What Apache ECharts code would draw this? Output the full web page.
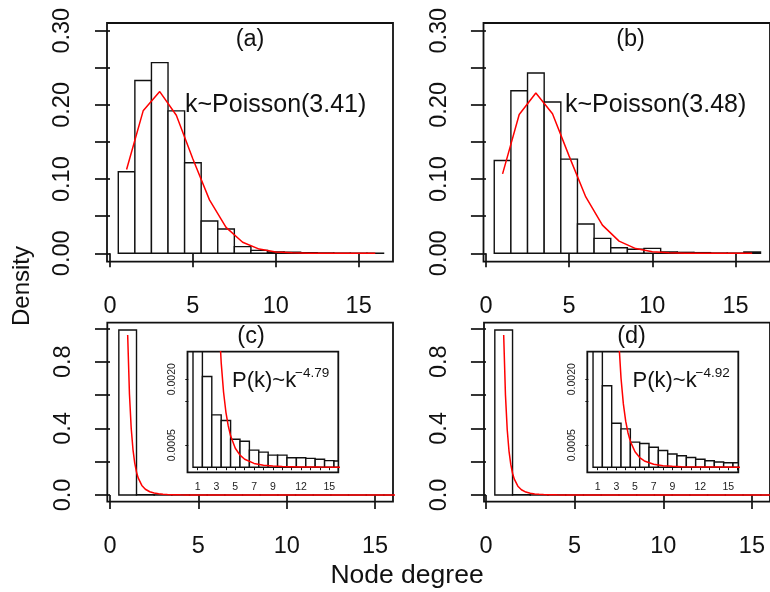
<!DOCTYPE html>
<html>
<head>
<meta charset="utf-8">
<script src="https://cdn.jsdelivr.net/npm/echarts@6/dist/echarts.min.js"></script>
<style>
html,body{margin:0;padding:0;background:#fff;}
#chart{width:770px;height:592px;}
</style>
</head>
<body>
<div id="chart"></div>
<script>
// ---------- data ----------
const degrees = [1,2,3,4,5,6,7,8,9,10,11,12,13,14,15,16];
// (a) observed density and Poisson(3.41) fit
const histA = [0.110,0.233,0.257,0.192,0.122,0.0435,0.0327,0.0090,0.0040,0.0020,0.0015,0.0008,0.0005,0.0003,0.0002,0.0002];
const poisA = [0.113,0.192,0.218,0.186,0.127,0.072,0.035,0.015,0.0057,0.0019,0.0006,0.0002,0.00004,0.00001,0,0];
// (b) observed density and Poisson(3.48) fit
const histB = [0.125,0.219,0.243,0.204,0.127,0.0395,0.0202,0.0076,0.0054,0.0067,0.0020,0.0013,0.0009,0.0004,0.0003,0.0018];
const poisB = [0.107,0.187,0.216,0.188,0.131,0.076,0.038,0.0164,0.0064,0.0022,0.0007,0.0002,0.00005,0.00001,0,0];
// (c),(d) observed densities (first bar ~0.99, the rest shown in the insets)
const histC = [0.990,0.00206,0.00119,0.00106,0.000635,0.00059,0.000387,0.000342,0.000275,0.000275,0.000215,0.000215,0.0002,0.00018,0.00015,0.00014];
const histD = [0.990,0.00185,0.00100,0.00087,0.00057,0.00054,0.000455,0.00038,0.00030,0.00026,0.00022,0.00018,0.000147,0.000117,0.00010,0.00010];
// power-law fit curves P(k)~k^-4.79 and k^-4.92
const fitK = [1,1.1,1.2,1.3,1.4,1.5,1.6,1.8,2,2.25,2.5,2.75,3,3.25,3.5,3.75,4,4.25,4.5,5,5.5,6,7,8,9,10,12,14,16,17];
const fitC = [0.96,0.608,0.401,0.273,0.1915,0.1376,0.1011,0.0575,0.0347,0.01974,0.01192,0.00755,0.004976,0.003393,0.002378,0.001709,0.001254,0.000938,0.000713,0.000431,0.000273,0.000180,0.000086,0.0000453,0.0000258,0.0000156,0.0000065,0.0000031,0.0000016,0.0000012];
const fitD = [0.96,0.601,0.3915,0.264,0.1834,0.1306,0.0951,0.0532,0.0317,0.01776,0.01058,0.00662,0.004316,0.002909,0.002022,0.001439,0.001047,0.000777,0.000587,0.000350,0.000219,0.000142,0.0000666,0.0000346,0.0000194,0.0000115,0.0000047,0.0000022,0.0000011,0.00000085];
// tick values / labels
const xTicksMain = [0,5,10,15];
const yTicksAB = [0,0.05,0.10,0.15,0.20,0.25,0.30];
const yLabelsAB = [0,0.10,0.20,0.30];
const yTicksCD = [0,0.2,0.4,0.6,0.8,1.0];
const yLabelsCD = [0,0.4,0.8];
const insetXTicks = [1,2,3,4,5,6,7,8,9,10,11,12,13,14,15,16];
const insetXLabels = [1,3,5,7,9,12,15];
const insetYTicks = [0.0005,0.0015,0.0020];
const insetYLabels = [0.0005,0.0020];
const panelTags = ['(a)','(b)','(c)','(d)'];
const poissonTexts = ['k~Poisson(3.41)','k~Poisson(3.48)'];
const powerTexts = ['P(k)~k','P(k)~k'];
const powerExps = ['\u22124.79','\u22124.92'];

// ---------- chart ----------
const FONT = '"Liberation Sans", Arial, sans-serif';
const chart = echarts.init(document.getElementById('chart'), null, {renderer:'canvas'});

function pairs(xs, ys){ return xs.map((x,i)=>[x, ys[i]]); }

function histItem(params, api){
  const k = api.value(0), h = api.value(1);
  const p0 = api.coord([k-0.5, h]);
  const p1 = api.coord([k+0.5, 0]);
  const cs = params.coordSys;
  const rect = echarts.graphic.clipRectByRect(
    {x:p0[0], y:p0[1], width:p1[0]-p0[0], height:p1[1]-p0[1]},
    {x:cs.x, y:cs.y, width:cs.width, height:cs.height});
  if(!rect) return null;
  return {type:'rect', shape:rect, style:{fill:'#fff', stroke:'#111', lineWidth:1.4}};
}

function grid(l,t,w,h,bg){
  return {left:l, top:t, width:w, height:h, show:true, borderColor:'#111', borderWidth:1.8,
          backgroundColor: bg || 'transparent', containLabel:false};
}

function xAxis(gi, min, max, ticks, labels, opts){
  opts = opts || {};
  return {
    type:'value', gridIndex:gi, min:min, max:max,
    axisLine:{show:false}, splitLine:{show:false},
    axisTick:{show:true, inside:false, length:opts.tickLen||14, customValues:ticks,
              lineStyle:{color:'#111', width:opts.tickW||1.7}},
    axisLabel:{show:true, customValues:labels, margin:opts.margin||33,
               fontSize:opts.fontSize||23.5, fontFamily:FONT, color:opts.color||'#111',
               formatter: v => String(v)}
  };
}
function yAxis(gi, min, max, ticks, labels, digits, opts){
  opts = opts || {};
  return {
    type:'value', gridIndex:gi, min:min, max:max,
    axisLine:{show:false}, splitLine:{show:false},
    axisTick:{show:true, inside:false, length:opts.tickLen||15, customValues:ticks,
              lineStyle:{color:'#111', width:opts.tickW||1.7}},
    axisLabel:{show:true, customValues:labels, rotate:90, margin:opts.margin||32,
               fontSize:opts.fontSize||23.5, fontFamily:FONT, color:opts.color||'#111',
               formatter: v => Number(v).toFixed(digits)}
  };
}

const histSeries = (xi, yi, data) => ({
  type:'custom', xAxisIndex:xi, yAxisIndex:yi, renderItem:histItem,
  data: pairs(degrees, data), z:2, silent:true
});
const lineSeries = (xi, yi, data) => ({
  type:'line', xAxisIndex:xi, yAxisIndex:yi, data:data, showSymbol:false, symbol:'none',
  clip:true, lineStyle:{color:'#ff0000', width:1.5}, z:3, silent:true
});

const insetOpts = {tickLen:3, tickW:1, margin:9, fontSize:10.5, color:'#222'};
const insetYOpts = {tickLen:3, tickW:1, margin:10, fontSize:10.5, color:'#222'};

const option = {
  backgroundColor:'#fff',
  animation:false,
  grid:[
    grid(107, 23, 286, 238.7),
    grid(483.5, 23, 294, 238.7),
    grid(107.3, 322.7, 285.7, 179),
    grid(484, 322.7, 292.8, 179),
    grid(187.5, 351.7, 150.8, 120.6, '#fff'),
    grid(587.3, 351.7, 151, 120.6, '#fff')
  ],
  xAxis:[
    xAxis(0, -0.181, 17.07, xTicksMain, xTicksMain),
    xAxis(1, -0.146, 17.07, xTicksMain, xTicksMain),
    xAxis(2, -0.153, 16.016, xTicksMain, xTicksMain),
    xAxis(3, -0.11, 16.02, xTicksMain, xTicksMain),
    xAxis(4, -0.085, 15.96, insetXTicks, insetXLabels, insetOpts),
    xAxis(5, -0.115, 16.07, insetXTicks, insetXLabels, insetOpts)
  ],
  yAxis:[
    yAxis(0, -0.0113, 0.3104, yTicksAB, yLabelsAB, 2),
    yAxis(1, -0.0113, 0.3104, yTicksAB, yLabelsAB, 2),
    yAxis(2, -0.040, 1.034, yTicksCD, yLabelsCD, 1),
    yAxis(3, -0.040, 1.034, yTicksCD, yLabelsCD, 1),
    yAxis(4, -0.000116, 0.002625, insetYTicks, insetYLabels, 4, insetYOpts),
    yAxis(5, -0.000116, 0.002625, insetYTicks, insetYLabels, 4, insetYOpts)
  ],
  series:[
    histSeries(0,0,histA), lineSeries(0,0,pairs(degrees,poisA)),
    histSeries(1,1,histB), lineSeries(1,1,pairs(degrees,poisB)),
    histSeries(2,2,histC), lineSeries(2,2,pairs(fitK,fitC)),
    histSeries(3,3,histD), lineSeries(3,3,pairs(fitK,fitD)),
    histSeries(4,4,histC), lineSeries(4,4,pairs(fitK,fitC)),
    histSeries(5,5,histD), lineSeries(5,5,pairs(fitK,fitD))
  ],
  graphic:[
    {type:'text', x:250, y:40, style:{text:panelTags[0], font:'23.5px '+FONT, fill:'#111', align:'center', verticalAlign:'middle'}},
    {type:'text', x:630.5, y:40, style:{text:panelTags[1], font:'23.5px '+FONT, fill:'#111', align:'center', verticalAlign:'middle'}},
    {type:'text', x:251, y:337, style:{text:panelTags[2], font:'23.5px '+FONT, fill:'#111', align:'center', verticalAlign:'middle'}},
    {type:'text', x:631.5, y:337, style:{text:panelTags[3], font:'23.5px '+FONT, fill:'#111', align:'center', verticalAlign:'middle'}},
    {type:'text', x:185, y:105, style:{text:poissonTexts[0], font:'25px '+FONT, fill:'#111', align:'left', verticalAlign:'middle'}},
    {type:'text', x:565, y:105, style:{text:poissonTexts[1], font:'25px '+FONT, fill:'#111', align:'left', verticalAlign:'middle'}},
    {type:'text', x:232, y:381, z:10, style:{text:powerTexts[0], font:'22px '+FONT, fill:'#111', align:'left', verticalAlign:'middle'}},
    {type:'text', x:295, y:373, z:10, style:{text:powerExps[0], font:'13.5px '+FONT, fill:'#111', align:'left', verticalAlign:'middle'}},
    {type:'text', x:632.5, y:381, z:10, style:{text:powerTexts[1], font:'22px '+FONT, fill:'#111', align:'left', verticalAlign:'middle'}},
    {type:'text', x:695.5, y:373, z:10, style:{text:powerExps[1], font:'13.5px '+FONT, fill:'#111', align:'left', verticalAlign:'middle'}},
    {type:'text', x:22.5, y:286, rotation:Math.PI/2, style:{text:'Density', font:'24px '+FONT, fill:'#111', align:'center', verticalAlign:'middle'}},
    {type:'text', x:407, y:576, style:{text:'Node degree', font:'26.5px '+FONT, fill:'#111', align:'center', verticalAlign:'middle'}}
  ]
};
chart.setOption(option);
</script>
</body>
</html>
